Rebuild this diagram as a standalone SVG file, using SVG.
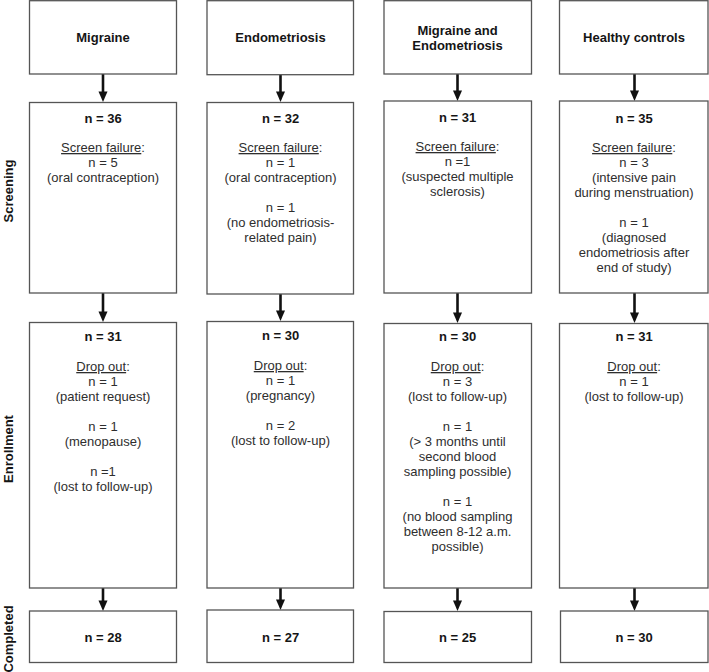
<svg xmlns="http://www.w3.org/2000/svg" width="709" height="672" viewBox="0 0 709 672">
<style>
.box{fill:#fff;stroke:#555;stroke-width:1.3}
text{font-family:"Liberation Sans",Arial,sans-serif;font-size:13px;fill:#2e2e2e;text-anchor:middle}
.b{font-weight:bold;fill:#151515}
.shaft{stroke:#111;stroke-width:2.6;fill:none}
.head{fill:#111}
</style>
<rect width="709" height="672" fill="#fff"/>

<g id="side-labels">
<text class="b" transform="translate(12.5,191) rotate(-90)">Screening</text>
<text class="b" transform="translate(12.5,449) rotate(-90)">Enrollment</text>
<text class="b" transform="translate(12.5,639) rotate(-90)">Completed</text>
</g>

<g id="connectors">
<line class="shaft" x1="103" y1="74" x2="103" y2="93"/><polygon class="head" points="98.5,91.5 107.5,91.5 103,102"/>
<line class="shaft" x1="280.5" y1="74.5" x2="280.5" y2="93"/><polygon class="head" points="276,91.5 285,91.5 280.5,102"/>
<line class="shaft" x1="457.5" y1="74" x2="457.5" y2="92"/><polygon class="head" points="453,90.5 462,90.5 457.5,101"/>
<line class="shaft" x1="634.5" y1="74" x2="634.5" y2="92"/><polygon class="head" points="630,90.5 639,90.5 634.5,101"/>

<line class="shaft" x1="103" y1="292" x2="103" y2="313"/><polygon class="head" points="98.5,311.5 107.5,311.5 103,322"/>
<line class="shaft" x1="280.5" y1="293" x2="280.5" y2="312"/><polygon class="head" points="276,310.5 285,310.5 280.5,321"/>
<line class="shaft" x1="457.5" y1="292" x2="457.5" y2="314"/><polygon class="head" points="453,312.5 462,312.5 457.5,323"/>
<line class="shaft" x1="634.5" y1="292" x2="634.5" y2="314"/><polygon class="head" points="630,312.5 639,312.5 634.5,323"/>

<line class="shaft" x1="103" y1="584" x2="103" y2="602"/><polygon class="head" points="98.5,600.5 107.5,600.5 103,611"/>
<line class="shaft" x1="280.5" y1="584" x2="280.5" y2="601"/><polygon class="head" points="276,599.5 285,599.5 280.5,610"/>
<line class="shaft" x1="457.5" y1="584" x2="457.5" y2="602"/><polygon class="head" points="453,600.5 462,600.5 457.5,611"/>
<line class="shaft" x1="634.5" y1="584" x2="634.5" y2="602"/><polygon class="head" points="630,600.5 639,600.5 634.5,611"/>
</g>

<g id="migraine-group">
<rect class="box" x="29.5" y="0.7" width="147" height="73.3"/>
<text class="b" x="103" y="42">Migraine</text>
</g>
<g id="endometriosis-group">
<rect class="box" x="207" y="0.7" width="146.5" height="74"/>
<text class="b" x="280.5" y="42">Endometriosis</text>
</g>
<g id="migraine-endometriosis-group">
<rect class="box" x="384" y="0.7" width="147.5" height="73.3"/>
<text class="b" x="457.5" y="35">Migraine and</text>
<text class="b" x="457.5" y="50">Endometriosis</text>
</g>
<g id="healthy-controls-group">
<rect class="box" x="559.5" y="0.7" width="148.5" height="73.3"/>
<text class="b" x="634" y="42">Healthy controls</text>
</g>

<g id="migraine-screening">
<rect class="box" x="29.5" y="102.5" width="147" height="190.5"/>
<text class="b" x="103" y="122.5">n = 36</text>
<text x="103" y="152"><tspan text-decoration="underline">Screen failure</tspan>:</text>
<text x="103" y="167">n = 5</text>
<text x="103" y="182">(oral contraception)</text>
</g>
<g id="endometriosis-screening">
<rect class="box" x="207" y="102.5" width="146.5" height="191.5"/>
<text class="b" x="280.5" y="122.5">n = 32</text>
<text x="280.5" y="152"><tspan text-decoration="underline">Screen failure</tspan>:</text>
<text x="280.5" y="167">n = 1</text>
<text x="280.5" y="182">(oral contraception)</text>
<text x="280.5" y="212">n = 1</text>
<text x="280.5" y="227">(no endometriosis-</text>
<text x="280.5" y="242">related pain)</text>
</g>
<g id="migraine-endometriosis-screening">
<rect class="box" x="384" y="101" width="147.5" height="192"/>
<text class="b" x="457.5" y="121.5">n = 31</text>
<text x="457.5" y="151"><tspan text-decoration="underline">Screen failure</tspan>:</text>
<text x="457.5" y="166">n =1</text>
<text x="457.5" y="181">(suspected multiple</text>
<text x="457.5" y="196">sclerosis)</text>
</g>
<g id="healthy-controls-screening">
<rect class="box" x="559.5" y="101" width="148.5" height="192"/>
<text class="b" x="634" y="122.5">n = 35</text>
<text x="634" y="152"><tspan text-decoration="underline">Screen failure</tspan>:</text>
<text x="634" y="167">n = 3</text>
<text x="634" y="182">(intensive pain</text>
<text x="634" y="197">during menstruation)</text>
<text x="634" y="227">n = 1</text>
<text x="634" y="242">(diagnosed</text>
<text x="634" y="257">endometriosis after</text>
<text x="634" y="272">end of study)</text>
</g>

<g id="migraine-enrollment">
<rect class="box" x="29.5" y="322.5" width="147" height="265.5"/>
<text class="b" x="103" y="341">n = 31</text>
<text x="103" y="371"><tspan text-decoration="underline">Drop out</tspan>:</text>
<text x="103" y="386">n = 1</text>
<text x="103" y="401">(patient request)</text>
<text x="103" y="431">n = 1</text>
<text x="103" y="446">(menopause)</text>
<text x="103" y="476">n =1</text>
<text x="103" y="491">(lost to follow-up)</text>
</g>
<g id="endometriosis-enrollment">
<rect class="box" x="207" y="321.5" width="146.5" height="266.5"/>
<text class="b" x="280.5" y="340">n = 30</text>
<text x="280.5" y="370"><tspan text-decoration="underline">Drop out</tspan>:</text>
<text x="280.5" y="385">n = 1</text>
<text x="280.5" y="400">(pregnancy)</text>
<text x="280.5" y="430">n = 2</text>
<text x="280.5" y="445">(lost to follow-up)</text>
</g>
<g id="migraine-endometriosis-enrollment">
<rect class="box" x="384" y="323.5" width="147.5" height="264.5"/>
<text class="b" x="457.5" y="341">n = 30</text>
<text x="457.5" y="371"><tspan text-decoration="underline">Drop out</tspan>:</text>
<text x="457.5" y="386">n = 3</text>
<text x="457.5" y="401">(lost to follow-up)</text>
<text x="457.5" y="431">n = 1</text>
<text x="457.5" y="446">(&gt; 3 months until</text>
<text x="457.5" y="461">second blood</text>
<text x="457.5" y="476">sampling possible)</text>
<text x="457.5" y="506">n = 1</text>
<text x="457.5" y="521">(no blood sampling</text>
<text x="457.5" y="536">between 8-12 a.m.</text>
<text x="457.5" y="551">possible)</text>
</g>
<g id="healthy-controls-enrollment">
<rect class="box" x="559.5" y="323.5" width="148.5" height="264.5"/>
<text class="b" x="634" y="341">n = 31</text>
<text x="634" y="371"><tspan text-decoration="underline">Drop out</tspan>:</text>
<text x="634" y="386">n = 1</text>
<text x="634" y="401">(lost to follow-up)</text>
</g>

<g id="migraine-completed">
<rect class="box" x="29.5" y="611" width="147" height="51.5"/>
<text class="b" x="103" y="642">n = 28</text>
</g>
<g id="endometriosis-completed">
<rect class="box" x="207" y="610" width="146.5" height="52.5"/>
<text class="b" x="280.5" y="642">n = 27</text>
</g>
<g id="migraine-endometriosis-completed">
<rect class="box" x="384" y="611.5" width="147.5" height="51"/>
<text class="b" x="457.5" y="642">n = 25</text>
</g>
<g id="healthy-controls-completed">
<rect class="box" x="560.5" y="611" width="147.5" height="51.5"/>
<text class="b" x="634" y="642">n = 30</text>
</g>
</svg>
